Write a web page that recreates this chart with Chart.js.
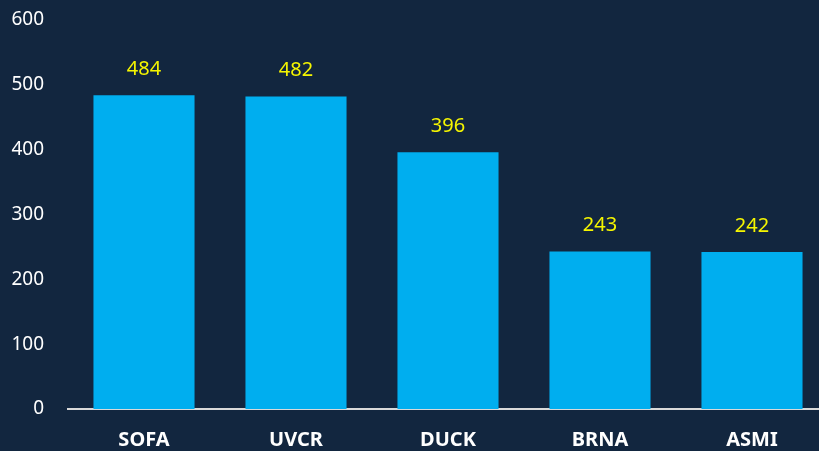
<!DOCTYPE html>
<html><head><meta charset="utf-8">
<script src="https://cdn.jsdelivr.net/npm/chart.js@4"></script>
<style>html,body{margin:0;padding:0;background:#12263f;overflow:hidden;}#wrap{width:819px;height:451px;overflow:hidden;}</style>
</head><body><div id="wrap"><canvas id="c" width="828" height="451"></canvas></div>
<script>
const categories = ["SOFA","UVCR","DUCK","BRNA","ASMI"];
const values = [484,482,396,243,242];
const yTicks = [0,100,200,300,400,500,600];

const labelPlugin = {
  id:'valueLabels',
  afterDatasetsDraw(chart){
    const ctx = chart.ctx;
    const meta = chart.getDatasetMeta(0);
    ctx.save();
    ctx.fillStyle = '#f5f500';
    ctx.font = '20px "Noto Sans"';
    ctx.textAlign = 'center';
    ctx.textBaseline = 'middle';
    meta.data.forEach((bar,i)=>{
      ctx.fillText(String(values[i]), bar.x, bar.y - 26);
    });
    ctx.restore();
  }
};

new Chart(document.getElementById('c'), {
  type:'bar',
  data:{labels:categories, datasets:[{data:values, backgroundColor:'#00aeef', borderWidth:0, categoryPercentage:1, barPercentage:0.665}]},
  options:{
    responsive:false, animation:false, maintainAspectRatio:false,
    layout:{padding:0},
    plugins:{legend:{display:false},tooltip:{enabled:false}},
    scales:{
      x:{
        grid:{display:false, drawTicks:false},
        border:{display:true,color:'#d9d9d9',width:2},
        ticks:{color:'#ffffff',padding:19,font:{family:'"Noto Sans"',size:20,weight:'bold'}},
        afterFit(s){s.height=42;}
      },
      y:{
        min:0,max:600,
        afterBuildTicks(s){s.ticks = yTicks.map(v=>({value:v}));},
        grid:{display:false, drawTicks:false},
        border:{display:false},
        ticks:{color:'#ffffff',padding:24,font:{family:'"Noto Sans"',size:19}},
        afterFit(s){s.width=68; s.paddingTop=20; s.paddingBottom=0;}
      }
    }
  },
  plugins:[labelPlugin]
});
</script></body></html>
